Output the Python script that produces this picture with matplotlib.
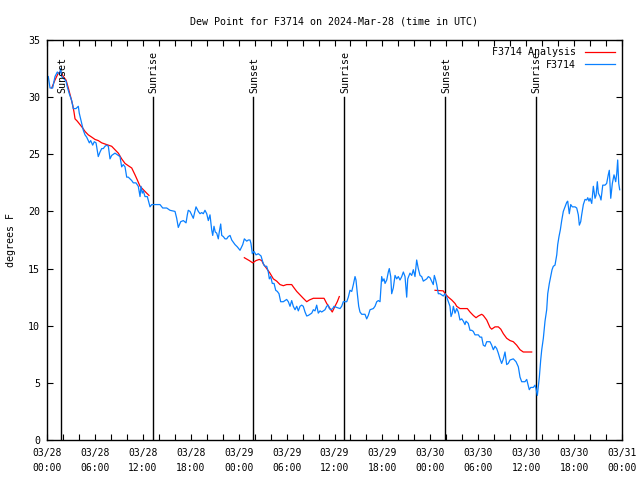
import matplotlib
matplotlib.use("Agg")
import matplotlib.pyplot as plt
import numpy as np

# ---- data (hours since 2024-03-28 00:00 UTC) ----
obs_hours = [0.16, 0.38, 0.71, 1.00, 1.29, 1.54, 1.72, 1.84, 2.13, 2.38, 2.54, 2.79, 3.09, 3.29, 3.63,
             3.92, 4.04, 4.35, 4.55, 4.76, 4.97, 5.30, 5.47, 5.72, 5.92, 6.14, 6.42, 6.64, 6.85, 7.05,
             7.26, 7.48, 7.68, 7.89, 8.10, 8.51, 8.93, 9.14, 9.35, 9.55, 9.77, 9.98, 10.18, 10.61, 10.81,
             11.14, 11.43, 11.65, 11.77, 11.93, 12.06, 12.27, 12.56, 12.90, 13.11, 13.52, 14.15, 14.49,
             14.99, 15.40, 16.03, 16.24, 16.44, 16.74, 17.07, 17.41, 17.57, 17.69, 17.91, 18.12, 18.32,
             18.45, 18.66, 18.95, 19.16, 19.37, 19.57, 19.78, 20.00, 20.20, 20.41, 20.62, 20.75, 20.91,
             21.07, 21.25, 21.45, 21.57, 21.75, 21.88, 22.08, 22.29, 22.50, 22.70, 22.92, 23.13, 23.54,
             23.83, 24.17, 24.51, 24.71, 25.01, 25.21, 25.42, 25.54, 25.71, 25.92, 26.17, 26.46, 26.80,
             27.01, 27.17, 27.30, 27.51, 27.71, 27.84, 28.01, 28.21, 28.43, 28.64, 28.84, 29.05, 29.26,
             29.59, 30.01, 30.22, 30.43, 30.64, 30.84, 31.06, 31.27, 31.47, 31.68, 31.89, 32.09, 32.31,
             32.52, 32.72, 32.93, 33.15, 33.35, 33.56, 33.77, 33.97, 34.19, 34.40, 34.60, 34.81, 35.02,
             35.22, 35.35, 35.53, 35.78, 35.94, 36.28, 36.69, 36.90, 37.10, 37.53, 37.73, 37.94, 38.16,
             38.36, 38.57, 38.69, 38.86, 39.03, 39.19, 39.41, 39.82, 40.03, 40.23, 40.45, 40.86, 41.07,
             41.29, 41.49, 41.70, 41.91, 42.04, 42.20, 42.33, 42.54, 42.74, 42.86, 43.04, 43.16, 43.36,
             43.58, 43.79, 43.99, 44.20, 44.42, 44.62, 44.83, 45.04, 45.17, 45.45, 45.67, 45.87, 46.08,
             46.29, 46.49, 46.71, 46.92, 47.12, 47.33, 47.55, 47.75, 47.96, 48.17, 48.37, 48.50, 48.67,
             48.80, 49.00, 49.21, 49.42, 49.62, 49.84, 50.05, 50.25, 50.46, 50.59, 50.75, 50.88, 51.09,
             51.30, 51.50, 51.71, 51.93, 52.13, 52.34, 52.47, 52.75, 52.97, 53.18, 53.38, 53.59, 54.01,
             54.22, 54.43, 54.63, 54.85, 55.06, 55.47, 55.68, 55.89, 56.10, 56.31, 56.51, 56.72, 56.93,
             57.14, 57.35, 57.56, 57.76, 57.98, 58.39, 58.73, 59.02, 59.23, 59.44, 59.85, 60.07, 60.19,
             60.39, 60.57, 60.90, 61.11, 61.23, 61.40, 61.52, 61.65, 61.82, 61.95, 62.15, 62.36, 62.57,
             62.70, 62.90, 63.07, 63.24, 63.40, 63.61, 63.83, 63.95, 64.11, 64.28, 64.45, 64.65, 64.86,
             65.08, 65.20, 65.40, 65.58, 65.78, 66.12, 66.33, 66.53, 66.66, 66.83, 66.95, 67.16, 67.37,
             67.58, 67.71, 67.87, 68.00, 68.21, 68.41, 68.62, 68.75, 68.91, 69.04, 69.25, 69.37, 69.59,
             69.87, 70.08, 70.28, 70.41, 70.59, 70.79, 71.00, 71.21, 71.34, 71.46, 71.59, 71.71]
obs_values = [31.8, 30.8, 30.8, 31.8, 32.2, 32.0, 32.5, 31.8, 31.6, 31.4, 30.9, 30.3, 29.7, 29.0, 29.0,
              29.2, 28.6, 27.7, 27.1, 26.7, 26.5, 26.0, 26.2, 25.8, 26.1, 26.0, 24.8, 25.2, 25.5, 25.5,
              25.7, 25.8, 25.7, 24.6, 24.9, 25.1, 24.9, 24.8, 23.9, 24.1, 23.9, 23.0, 23.0, 22.7, 22.5,
              22.5, 22.2, 21.3, 22.2, 21.6, 21.8, 21.3, 21.3, 20.4, 20.6, 20.6, 20.6, 20.3,
              20.3, 20.1, 20.0, 19.4, 18.6, 19.1, 19.2, 19.0, 19.7, 20.1, 20.0, 19.7, 19.4,
              19.8, 20.4, 20.0, 19.8, 19.9, 19.8, 20.1, 19.8, 19.2, 19.7, 18.4, 17.9, 18.7,
              18.2, 18.1, 17.6, 18.2, 18.9, 17.9, 17.8, 17.6, 17.6, 17.8, 17.9, 17.5, 17.1,
              16.9, 16.6, 17.1, 17.6, 17.4, 17.5, 17.5, 17.2, 16.3, 16.5, 16.2, 16.3, 16.1,
              15.6, 15.3, 15.2, 15.2, 14.7, 14.1, 14.3, 13.7, 13.7, 13.1, 13.0, 12.8, 12.1,
              12.1, 12.3, 12.1, 11.7, 12.2, 11.7, 11.4, 11.7, 11.3, 11.7, 11.8, 11.7, 11.2,
              10.85, 10.9, 11.0, 11.1, 11.4, 11.3, 11.8, 11.1, 11.3, 11.2, 11.3, 11.4, 11.7,
              11.8, 11.5, 11.4, 11.5, 11.7, 11.6, 11.5, 11.7, 12.1, 12.1, 12.5, 13.1, 13.0,
              13.6, 14.3, 14.0, 12.8, 11.7, 11.2, 11.0, 11.0, 10.6, 10.9, 11.4, 11.5, 11.7,
              12.1, 12.2, 12.1, 14.3, 13.9, 14.1, 13.7, 14.0, 14.7, 15.0, 14.3, 12.8, 13.3,
              14.4, 14.1, 14.3, 14.0, 14.3, 14.7, 14.3, 12.5, 14.1, 14.6, 14.4, 14.9, 14.3,
              15.75, 15.0, 14.4, 14.3, 13.9, 14.0, 14.1, 14.3, 14.2, 13.9, 13.6, 14.4, 14.0,
              13.6, 12.8, 12.8, 12.7, 12.6, 12.8, 12.5, 12.1, 11.7, 10.8, 11.1, 11.7, 11.1,
              11.5, 11.2, 10.5, 10.6, 10.4, 10.1, 10.4, 10.2, 9.6, 9.6, 9.5, 9.2, 9.2,
              9.0, 9.0, 8.3, 8.2, 8.6, 8.6, 8.3, 7.9, 8.2, 8.0, 7.6, 7.1, 6.7,
              7.1, 7.7, 6.6, 6.7, 7.0, 7.1, 6.85, 6.4, 5.5, 5.1, 5.1, 5.3, 4.95,
              4.4, 4.6, 4.6, 4.8, 4.5, 3.9, 4.7, 5.5, 7.0, 7.9, 8.9, 10.4, 11.4,
              12.8, 13.7, 14.3, 14.9, 15.2, 15.3, 16.2, 17.1, 17.8, 18.4, 19.2, 20.0, 20.4,
              20.8, 20.9, 19.8, 20.6, 20.4, 20.4, 20.3, 19.7, 18.8, 19.1, 19.7, 20.6, 21.05,
              21.0, 21.2, 20.9, 21.15, 20.7, 22.2, 21.15, 21.4, 22.6, 21.6, 21.3, 21.0, 22.3,
              22.3, 22.45, 23.2, 23.6, 21.15, 22.45, 23.2, 22.6, 23.3, 24.5, 22.45, 21.9]

ana_hours_1 = [0.59, 1.00, 1.41, 1.72, 2.04, 2.38, 2.67, 2.97, 3.22, 3.38, 3.51, 3.79, 4.13, 4.47, 4.76,
               5.17, 5.60, 6.01, 6.42, 6.85, 7.26, 7.68, 8.10, 8.51, 8.93, 9.35, 9.77, 10.18, 10.61,
               11.02, 11.31, 11.65, 12.06, 12.48, 12.77]
ana_values_1 = [30.8, 31.5, 32.1, 32.25, 31.8, 31.5, 30.8, 30.0, 29.3, 28.7, 28.1, 27.9, 27.6, 27.3, 27.0,
                26.7, 26.5, 26.3, 26.2, 26.0, 25.9, 25.8, 25.7, 25.4, 25.1, 24.6, 24.2, 24.0, 23.8,
                23.2, 22.75, 22.2, 21.9, 21.6, 21.4]
ana_hours_2 = [24.71, 25.33, 25.76, 26.17, 26.58, 26.89, 27.09, 27.51, 27.92, 28.34, 28.76, 29.18, 29.59,
               30.01, 30.64, 30.84, 31.27, 31.68, 32.09, 32.52, 32.85, 33.35, 34.69, 35.02, 35.44, 35.72,
               36.06, 36.35, 36.60]
ana_values_2 = [15.95, 15.7, 15.5, 15.7, 15.8, 15.7, 15.4, 15.0, 14.6, 14.1, 13.9, 13.6, 13.5,
                13.6, 13.6, 13.4, 13.0, 12.7, 12.4, 12.1, 12.25, 12.4, 12.4, 11.95, 11.5, 11.2,
                11.7, 12.1, 12.55]
ana_hours_3 = [48.59, 49.62, 49.84, 50.25, 50.68, 51.09, 51.30, 51.71, 52.63, 52.97, 53.38, 53.72, 54.01,
               54.43, 54.63, 55.06, 55.47, 55.68, 56.10, 56.51, 56.82, 57.14, 57.56, 57.98, 58.39, 58.81,
               59.23, 59.64, 60.69]
ana_values_3 = [13.1, 13.05, 12.8, 12.5, 12.25, 11.95, 11.7, 11.5, 11.5, 11.2, 10.9, 10.7, 10.85,
                11.0, 10.9, 10.5, 9.85, 9.7, 9.9, 9.9, 9.7, 9.3, 8.9, 8.7, 8.6, 8.3,
                7.9, 7.7, 7.7]

sun_hours = [1.80, 13.25, 25.82, 37.25, 49.85, 61.20]
sun_labels = ["Sunset", "Sunrise", "Sunset", "Sunrise", "Sunset", "Sunrise"]

xtick_hours = [0, 6, 12, 18, 24, 30, 36, 42, 48, 54, 60, 66, 72]
xtick_labels = ["03/28\n00:00", "03/28\n06:00", "03/28\n12:00", "03/28\n18:00",
                "03/29\n00:00", "03/29\n06:00", "03/29\n12:00", "03/29\n18:00",
                "03/30\n00:00", "03/30\n06:00", "03/30\n12:00", "03/30\n18:00",
                "03/31\n00:00"]
ytick_values = [0, 5, 10, 15, 20, 25, 30, 35]

# ---- drawing ----
FONT = "DejaVu Sans Mono"
plt.rcParams['font.family'] = [FONT]
RED = "#ff0000"
BLUE = "#0a80ff"

fig = plt.figure(figsize=(6.4, 4.8), dpi=100)
ax = fig.add_axes([47/640, 40/480, 575/640, 400/480])

for h, lab in zip(sun_hours, sun_labels):
    ax.plot([h, h], [0, 30], color="black", lw=1.0, zorder=1)
    ax.text(h + 0.1, 30.4, lab, rotation=90, ha="center", va="bottom", fontsize=7.2, zorder=3)

ax.plot(ana_hours_1, ana_values_1, color=RED, lw=0.9, label="F3714 Analysis", zorder=2)
ax.plot(ana_hours_2, ana_values_2, color=RED, lw=0.9, zorder=2)
ax.plot(ana_hours_3, ana_values_3, color=RED, lw=0.9, zorder=2)
ax.plot(obs_hours, obs_values, color=BLUE, lw=0.9, label="F3714", zorder=2)

ax.set_xlim(0, 72)
ax.set_ylim(0, 35)
ax.set_xticks(xtick_hours)
ax.set_xticklabels(xtick_labels, fontsize=7, linespacing=1.55)
ax.set_xticks(np.arange(0, 73, 2), minor=True)
ax.set_yticks(ytick_values)
ax.set_yticklabels([str(v) for v in ytick_values], fontsize=7.2)
ax.tick_params(axis="x", which="major", pad=6)
ax.tick_params(axis="both", which="both", direction="in", top=True, right=True,
               length=4, width=0.8)
ax.tick_params(axis="y", pad=5)
for s in ax.spines.values():
    s.set_linewidth(1.0)

ax.set_ylabel("degrees F", fontsize=7.2, labelpad=9)
ax.set_title("Dew Point for F3714 on 2024-Mar-28 (time in UTC)", fontsize=7.2, pad=11)

leg = ax.legend(loc="upper right", frameon=False, fontsize=7.2, markerfirst=False,
                handlelength=3.0, handletextpad=0.9, borderaxespad=0.35, labelspacing=0.25,
                borderpad=0.4)
for t in leg.get_texts():
    t.set_ha("right")

fig.savefig("out.png", dpi=100)
